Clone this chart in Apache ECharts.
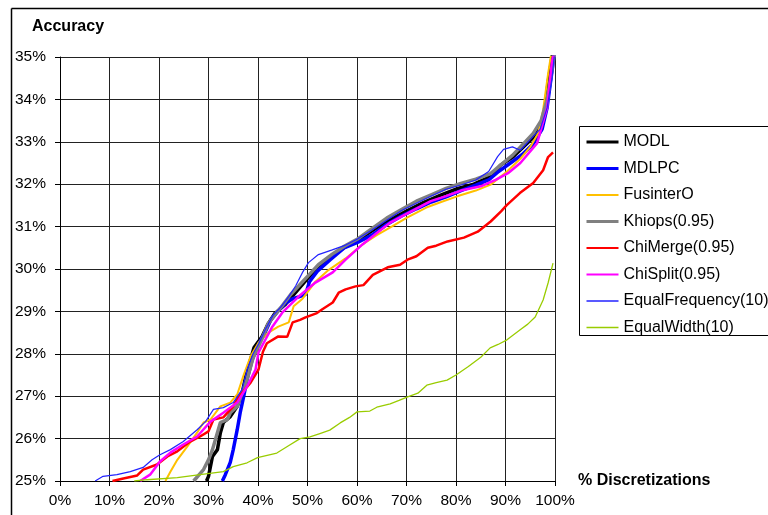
<!DOCTYPE html>
<html>
<head>
<meta charset="utf-8">
<title>Accuracy vs % Discretizations</title>
<script src="https://cdn.jsdelivr.net/npm/echarts@6/dist/echarts.min.js"></script>
<style>
  html, body { margin: 0; padding: 0; background: #fff; }
  #chart { width: 768px; height: 515px; }
</style>
</head>
<body>
<div id="chart"></div>
<script>
// Cumulative accuracy curves: x = % of discretizations, y = accuracy (%)
const xTicks = [0, 10, 20, 30, 40, 50, 60, 70, 80, 90, 100];
const yTicks = [25, 26, 27, 28, 29, 30, 31, 32, 33, 34, 35];

const seriesNames = ['MODL', 'MDLPC', 'FusinterO', 'Khiops(0.95)', 'ChiMerge(0.95)', 'ChiSplit(0.95)', 'EqualFrequency(10)', 'EqualWidth(10)'];

const modlX = [29.6, 30.0, 30.8, 31.8, 32.4, 33.0, 34.4, 35.8, 36.8, 37.6, 39.2, 40.8, 42.0, 43.4, 45.4, 48.0, 50.2, 52.2, 55.0, 57.6, 60.2, 63.4, 66.8, 70.2, 73.5, 76.9, 80.4, 83.6, 87.0, 89.0, 91.5, 93.6, 95.6, 97.4, 98.0, 98.6, 99.4, 100];
const modlY = [25.0, 25.11, 25.58, 25.74, 26.14, 26.38, 26.52, 26.76, 27.08, 27.5, 28.15, 28.4, 28.7, 28.95, 29.15, 29.5, 29.8, 30.05, 30.3, 30.52, 30.68, 30.93, 31.17, 31.38, 31.57, 31.74, 31.9, 32.0, 32.18, 32.45, 32.64, 32.88, 33.1, 33.44, 33.8, 34.4, 35.0, 35.5];

const mdlpcX = [32.8, 33.4, 34.4, 35.0, 35.8, 36.4, 37.1, 37.8, 38.8, 40.0, 41.2, 42.6, 44.0, 45.6, 47.0, 48.4, 49.6, 50.4, 52.0, 54.6, 57.4, 60.0, 63.0, 66.0, 69.0, 72.0, 75.0, 78.0, 81.0, 84.0, 86.6, 88.6, 91.0, 93.4, 95.6, 97.4, 98.4, 99.2, 100];
const mdlpcY = [25.0, 25.15, 25.44, 25.74, 26.21, 26.61, 26.99, 27.4, 27.85, 28.2, 28.45, 28.8, 29.0, 29.2, 29.3, 29.35, 29.4, 29.7, 29.95, 30.22, 30.5, 30.62, 30.8, 31.05, 31.25, 31.42, 31.58, 31.7, 31.85, 31.98, 32.1, 32.3, 32.5, 32.7, 32.95, 33.3, 33.8, 34.5, 35.2];

const fusinterX = [21.3, 22.3, 23.7, 25.7, 27.7, 29.0, 30.4, 32.4, 34.4, 35.8, 37.1, 38.5, 40.1, 42.1, 44.1, 46.2, 47.2, 49.0, 51.6, 54.3, 57.7, 61.1, 64.0, 67.0, 70.2, 74.0, 77.0, 80.4, 84.0, 87.0, 90.3, 93.0, 95.0, 96.6, 97.6, 98.6, 99.4];
const fusinterY = [25.0, 25.22, 25.5, 25.81, 26.14, 26.38, 26.45, 26.76, 26.85, 27.04, 27.5, 27.94, 28.26, 28.5, 28.64, 28.74, 29.12, 29.3, 29.7, 29.98, 30.25, 30.58, 30.8, 31.0, 31.22, 31.45, 31.58, 31.72, 31.85, 31.99, 32.3, 32.6, 32.88, 33.2, 33.75, 34.6, 35.2];

const khiopsX = [27.0, 29.0, 30.0, 30.8, 31.8, 32.4, 33.8, 34.4, 35.8, 36.8, 37.8, 39.0, 40.6, 42.0, 43.6, 45.0, 46.6, 48.2, 50.2, 52.2, 55.0, 57.6, 60.0, 63.0, 66.0, 69.0, 72.0, 75.0, 78.0, 81.0, 84.0, 87.0, 89.0, 91.4, 93.6, 95.6, 97.2, 98.4, 99.4, 100];
const khiopsY = [25.0, 25.27, 25.5, 25.74, 26.14, 26.38, 26.45, 26.61, 26.76, 27.08, 27.4, 27.9, 28.3, 28.7, 28.95, 29.15, 29.4, 29.6, 29.85, 30.1, 30.35, 30.55, 30.7, 30.95, 31.2, 31.4, 31.6, 31.75, 31.9, 32.02, 32.12, 32.25, 32.45, 32.68, 32.95, 33.2, 33.5, 34.0, 34.7, 35.2];

const chiMergeX = [10.6, 12.8, 15.6, 16.8, 19.6, 21.7, 23.7, 26.3, 28.3, 30.0, 31.0, 33.0, 35.0, 36.0, 38.5, 40.1, 41.0, 41.8, 44.1, 45.9, 47.0, 48.5, 49.6, 51.9, 53.0, 55.1, 56.3, 57.7, 59.7, 61.3, 63.2, 66.2, 68.7, 70.2, 72.0, 74.3, 76.0, 78.3, 81.6, 84.4, 87.0, 89.1, 90.2, 92.9, 95.6, 97.6, 98.6, 99.6];
const chiMergeY = [25.0, 25.06, 25.13, 25.27, 25.39, 25.58, 25.7, 25.93, 26.05, 26.17, 26.45, 26.5, 26.76, 26.97, 27.32, 27.63, 28.05, 28.25, 28.41, 28.4, 28.74, 28.8, 28.86, 28.96, 29.05, 29.21, 29.44, 29.52, 29.59, 29.62, 29.86, 30.04, 30.1, 30.22, 30.3, 30.5, 30.55, 30.65, 30.74, 30.88, 31.12, 31.36, 31.5, 31.79, 32.03, 32.33, 32.64, 32.75];

const chiSplitX = [16.2, 18.2, 20.2, 22.3, 24.9, 27.7, 30.4, 33.0, 35.8, 37.8, 39.5, 40.1, 42.9, 44.9, 48.2, 51.6, 55.1, 57.7, 61.1, 64.0, 66.8, 70.0, 74.9, 78.0, 81.0, 85.0, 88.0, 90.5, 93.0, 96.4, 98.4, 99.4, 100];
const chiSplitY = [25.0, 25.15, 25.46, 25.67, 25.86, 26.05, 26.4, 26.61, 26.85, 27.23, 27.63, 28.03, 28.64, 28.97, 29.35, 29.68, 29.92, 30.22, 30.58, 30.85, 31.1, 31.3, 31.6, 31.72, 31.85, 31.95, 32.1, 32.26, 32.5, 32.97, 33.8, 34.9, 35.2];

const eqFreqX = [7.1, 8.7, 11.5, 14.2, 16.8, 18.6, 20.2, 22.3, 24.9, 27.7, 29.4, 31.0, 33.0, 35.0, 36.8, 37.8, 39.0, 40.2, 41.6, 43.0, 44.6, 46.2, 47.6, 49.0, 50.2, 52.2, 55.0, 57.4, 60.0, 63.0, 66.0, 69.0, 72.0, 75.0, 78.0, 81.0, 84.0, 86.6, 88.4, 89.6, 91.4, 93.0, 95.0, 97.0, 98.4, 99.4, 100];
const eqFreqY = [25.0, 25.11, 25.15, 25.22, 25.32, 25.5, 25.62, 25.74, 25.93, 26.21, 26.4, 26.69, 26.73, 26.85, 27.16, 27.63, 28.0, 28.25, 28.6, 28.9, 29.1, 29.35, 29.6, 29.92, 30.15, 30.34, 30.45, 30.55, 30.7, 30.92, 31.15, 31.38, 31.55, 31.72, 31.88, 31.98, 32.1, 32.3, 32.65, 32.82, 32.88, 32.8, 33.05, 33.3, 33.8, 34.5, 35.2];

const eqWidthX = [15.0, 17.6, 23.7, 28.3, 33.0, 35.0, 37.8, 39.9, 43.8, 46.0, 48.5, 50.5, 52.5, 54.5, 56.6, 58.5, 60.0, 62.6, 64.0, 66.7, 68.5, 70.1, 72.3, 74.1, 76.0, 78.2, 80.0, 82.5, 85.0, 86.9, 88.5, 90.3, 92.9, 94.5, 96.0, 97.6, 98.6, 99.6];
const eqWidthY = [25.0, 25.03, 25.08, 25.15, 25.22, 25.34, 25.43, 25.55, 25.66, 25.82, 26.0, 26.04, 26.12, 26.2, 26.37, 26.5, 26.63, 26.65, 26.74, 26.82, 26.9, 26.98, 27.07, 27.26, 27.32, 27.38, 27.5, 27.7, 27.92, 28.14, 28.22, 28.33, 28.56, 28.7, 28.87, 29.27, 29.67, 30.14];

const seriesX = [modlX, mdlpcX, fusinterX, khiopsX, chiMergeX, chiSplitX, eqFreqX, eqWidthX];
const seriesY = [modlY, mdlpcY, fusinterY, khiopsY, chiMergeY, chiSplitY, eqFreqY, eqWidthY];

// Line styles per method (plot lines and the matching legend samples)
const colors = ['#000000', '#0000FF', '#FFC000', '#808080', '#FF0000', '#FF00FF', '#2222FF', '#99CC00'];
const widths = [3.5, 3.5, 2, 3.5, 2.5, 2.5, 1.2, 1.3];
const legendWidths = [3, 3, 2, 3, 2, 2, 1.5, 1.5];

const FONT = '"Liberation Sans", Arial, sans-serif';

const chart = echarts.init(document.getElementById('chart'), null, { renderer: 'canvas' });

const series = seriesNames.map((name, i) => ({
  name,
  type: 'line',
  symbol: 'none',
  smooth: false,
  clip: true,
  animation: false,
  lineStyle: { color: colors[i], width: widths[i] },
  itemStyle: { color: colors[i] },
  data: seriesX[i].map((x, k) => [x, seriesY[i][k]])
}));

chart.setOption({
  backgroundColor: '#ffffff',
  animation: false,
  grid: { left: 60, top: 57, width: 495, height: 424, containLabel: false },
  xAxis: {
    type: 'value',
    min: xTicks[0],
    max: xTicks[xTicks.length - 1],
    interval: 10,
    axisLine: { show: true, lineStyle: { color: '#000', width: 1 } },
    axisTick: { show: true, length: 5, lineStyle: { color: '#000' } },
    axisLabel: { color: '#000', fontSize: 15.5, fontFamily: FONT, margin: 12, formatter: v => v + '%' },
    splitLine: { show: true, lineStyle: { color: '#222', width: 1 } }
  },
  yAxis: {
    type: 'value',
    min: yTicks[0],
    max: yTicks[yTicks.length - 1],
    interval: 1,
    axisLine: { show: true, lineStyle: { color: '#000', width: 1 } },
    axisTick: { show: true, length: 5, lineStyle: { color: '#000' } },
    axisLabel: { color: '#000', fontSize: 15.5, fontFamily: FONT, margin: 14, formatter: v => v + '%' },
    splitLine: { show: true, lineStyle: { color: '#222', width: 1 } }
  },
  legend: {
    orient: 'vertical',
    left: 585,
    top: 134,
    padding: 0,
    itemWidth: 32,
    itemHeight: 14,
    itemGap: 10.5,
    itemStyle: { opacity: 0 },
    textStyle: { color: '#000', fontSize: 16, fontFamily: FONT },
    data: seriesNames.map((name, i) => ({ name, lineStyle: { width: legendWidths[i] } }))
  },
  graphic: [
    // outer chart frame (left and top edges)
    { type: 'line', shape: { x1: 11.5, y1: 8.5, x2: 11.5, y2: 520 }, style: { stroke: '#000', lineWidth: 1.5 } },
    { type: 'line', shape: { x1: 11.5, y1: 8.5, x2: 770, y2: 8.5 }, style: { stroke: '#000', lineWidth: 1.5 } },
    // legend box
    { type: 'rect', shape: { x: 579.5, y: 126.5, width: 200, height: 209 }, style: { fill: 'none', stroke: '#000', lineWidth: 1 } },
    { type: 'text', left: 32, top: 19, style: { text: 'Accuracy', font: 'bold 16px "Liberation Sans", Arial, sans-serif', fill: '#000' } },
    { type: 'text', left: 578, top: 473, style: { text: '% Discretizations', font: 'bold 16px "Liberation Sans", Arial, sans-serif', fill: '#000' } }
  ],
  series
});
</script>
</body>
</html>
